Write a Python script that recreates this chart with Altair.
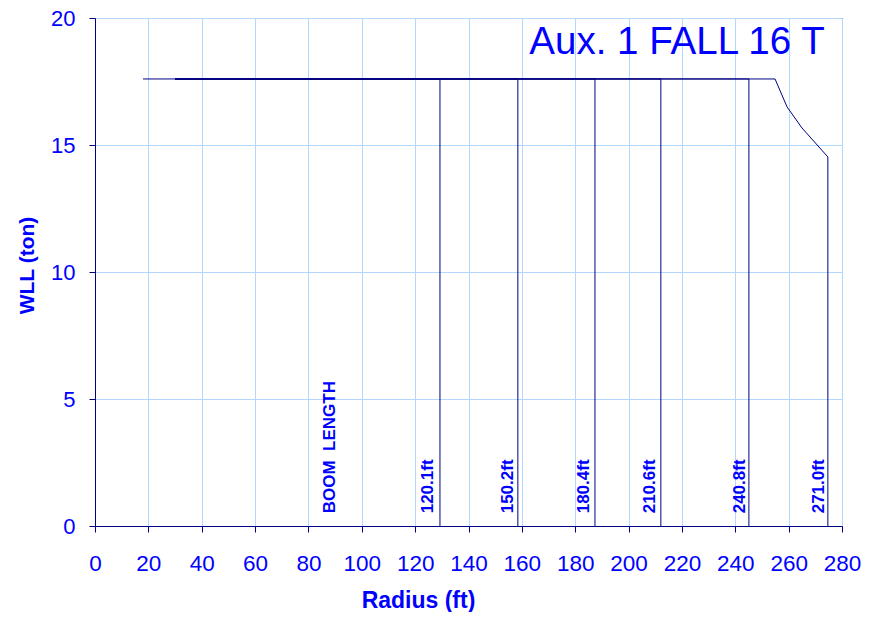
import altair as alt
import pandas as pd

# Boom lengths and their load-chart values
booms = ["120.1ft", "150.2ft", "180.4ft", "210.6ft", "240.8ft", "271.0ft"]
start_radius = [18.0, 30.0, 30.0, 30.0, 30.0, 30.0]
max_radius = [129.3, 158.5, 187.4, 212.1, 245.1, 274.7]
flat_wll = [17.6, 17.6, 17.6, 17.6, 17.6, 17.6]
# tail of the longest boom's curve
tail_radius = [254.9, 259.4, 265.0, 274.7]
tail_wll = [17.6, 16.5, 15.67, 14.53]
# label anchors (radius) for the rotated boom-length labels
label_radius = [124.8, 154.8, 183.3, 208.0, 241.7, 271.4]
header_label = "BOOM\u00a0\u00a0LENGTH"
header_radius = 88.1
label_wll = 0.5
chart_title = "Aux. 1 FALL 16 T"

rows = []
for i, b in enumerate(booms):
    pts = [(start_radius[i], flat_wll[i])]
    if i == len(booms) - 1:
        pts += list(zip(tail_radius, tail_wll))
    else:
        pts.append((max_radius[i], flat_wll[i]))
    pts.append((max_radius[i], 0.0))
    for j, (r, w) in enumerate(pts):
        rows.append({"boom": b, "r": r, "w": w, "o": j})
df = pd.DataFrame(rows)

lab = pd.DataFrame({
    "r": [header_radius] + label_radius,
    "w": [label_wll] * (len(booms) + 1),
    "t": [header_label] + booms,
})
ttl = pd.DataFrame({"r": [273.5], "w": [18.6], "t": [chart_title]})

BLUE = "#0000FF"
NAVY = "#000080"
GRID = "#B4D7FF"
FONT = "Liberation Sans"

x_axis = alt.Axis(
    values=list(range(0, 281, 20)), grid=True, gridColor=GRID,
    domainColor=NAVY, tickColor=NAVY, tickSize=6,
    labelFont=FONT, labelFontSize=22.5, labelColor=BLUE, labelPadding=20,
    labelOverlap=False, labelBound=False, labelFlush=False,
    title="Radius (ft)", titleFont=FONT, titleFontSize=23, titleFontWeight="bold",
    titleColor=BLUE, titleX=323, titleY=74, titleBaseline="middle", titleAlign="center",
)
y_axis = alt.Axis(
    values=[0, 5, 10, 15, 20], grid=True, gridColor=GRID,
    domainColor=NAVY, tickColor=NAVY, tickSize=6,
    labelFont=FONT, labelFontSize=22, labelColor=BLUE, labelPadding=14,
    labelOverlap=False, labelBound=False, labelFlush=False,
    title="WLL (ton)", titleFont=FONT, titleFontSize=21, titleFontWeight="bold",
    titleColor=BLUE, titleX=-68, titleY=247, titleBaseline="middle", titleAlign="center",
)

xs = alt.Scale(domain=[0, 280], nice=False)
ys = alt.Scale(domain=[0, 20], nice=False)

lines = alt.Chart(df).mark_line(color=NAVY, strokeWidth=1).encode(
    x=alt.X("r:Q", scale=xs, axis=x_axis),
    y=alt.Y("w:Q", scale=ys, axis=y_axis),
    detail="boom:N",
    order="o:Q",
)

labels = alt.Chart(lab).mark_text(
    angle=270, align="left", baseline="middle", fontSize=17,
    fontWeight="bold", color=BLUE, font=FONT,
).encode(x=alt.X("r:Q", scale=xs), y=alt.Y("w:Q", scale=ys), text="t:N")

title = alt.Chart(ttl).mark_text(
    align="right", baseline="alphabetic", fontSize=38.5, color=BLUE, font=FONT,
).encode(x=alt.X("r:Q", scale=xs), y=alt.Y("w:Q", scale=ys), text="t:N")

chart = alt.layer(lines, labels, title).properties(
    width=747, height=508,
    autosize=alt.AutoSizeParams(type="none"),
    padding={"left": 87, "top": 10, "right": 20, "bottom": 86},
    background="white",
).configure_view(stroke="black", strokeWidth=1)

chart.save("out.html", embed_options={"renderer": "svg", "actions": False})
